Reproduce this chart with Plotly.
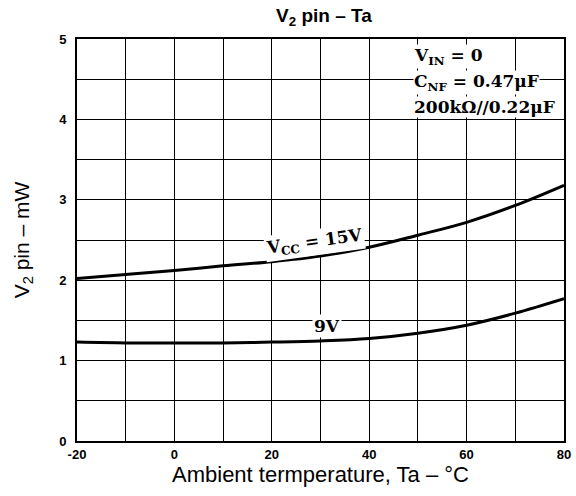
import plotly.graph_objects as go

ta = [-20, -10, 0, 10, 20, 30, 40, 50, 60, 70, 80]
p_15v = [2.02, 2.07, 2.12, 2.18, 2.23, 2.30, 2.41, 2.56, 2.72, 2.93, 3.18]
p_9v = [1.23, 1.22, 1.22, 1.22, 1.23, 1.245, 1.275, 1.34, 1.44, 1.59, 1.77]
x_ticks = [-20, 0, 20, 40, 60, 80]
y_ticks = [0, 1, 2, 3, 4, 5]

fig = go.Figure()
for ys in (p_15v, p_9v):
    fig.add_trace(go.Scatter(x=ta, y=ys, mode="lines",
                             line=dict(color="black", width=3, shape="spline", smoothing=1),
                             showlegend=False, hoverinfo="skip", cliponaxis=False))

serif = "DejaVu Serif, serif"
ann_font = dict(family=serif, size=17, color="black", weight="bold")
for txt, yv in [("V<sub>IN</sub> = 0", 4.78), ("C<sub>NF</sub> = 0.47μF", 4.46), ("200kΩ//0.22μF", 4.16)]:
    fig.add_annotation(x=49.0, y=yv, text=txt, showarrow=False, xanchor="left",
                       yanchor="middle", font=ann_font, bgcolor="white", borderpad=0)

fig.add_annotation(x=28.8, y=2.47, text="V<sub>CC</sub> = 15V", showarrow=False, textangle=-8,
                   font=ann_font, bgcolor="white", borderpad=1)
fig.add_annotation(x=31.3, y=1.43, text="9V", showarrow=False,
                   font=ann_font, bgcolor="white", borderpad=1)

fig.update_layout(
    width=576, height=496,
    margin=dict(l=77, r=5, t=39, b=55),
    paper_bgcolor="white", plot_bgcolor="white",
    title=dict(text="<b>V<sub>2</sub> pin – Ta</b>", x=324 / 576, xanchor="center",
               y=0.97, yanchor="middle",
               font=dict(family="Liberation Sans, Arial, sans-serif", size=19, color="black")),
    font=dict(family="Liberation Sans, Arial, sans-serif", color="black"),
)
fig.update_xaxes(range=[-20, 80], tickvals=x_ticks, ticktext=[str(v) for v in x_ticks],
                 showgrid=True, gridcolor="black", gridwidth=1,
                 minor=dict(dtick=10, showgrid=True, gridcolor="black", gridwidth=1),
                 showline=True, linecolor="black", linewidth=2, mirror=True,
                 ticks="", zeroline=False, ticklabeloverflow="allow",
                 tickfont=dict(size=13, family="Liberation Sans, Arial, sans-serif", weight="bold"),
                 title=dict(text="Ambient termperature, Ta – °C", font=dict(size=22), standoff=5))
fig.update_yaxes(range=[0, 5], tickvals=y_ticks, ticktext=[str(v) for v in y_ticks],
                 showgrid=True, gridcolor="black", gridwidth=1,
                 minor=dict(dtick=0.5, showgrid=True, gridcolor="black", gridwidth=1),
                 showline=True, linecolor="black", linewidth=2, mirror=True,
                 ticks="", zeroline=False, ticklabelstandoff=6, ticklabeloverflow="allow",
                 tickfont=dict(size=13, family="Liberation Sans, Arial, sans-serif", weight="bold"),
                 title=dict(text="V<sub>2</sub> pin – mW", font=dict(size=21), standoff=24))

fig.write_html("out.html")
